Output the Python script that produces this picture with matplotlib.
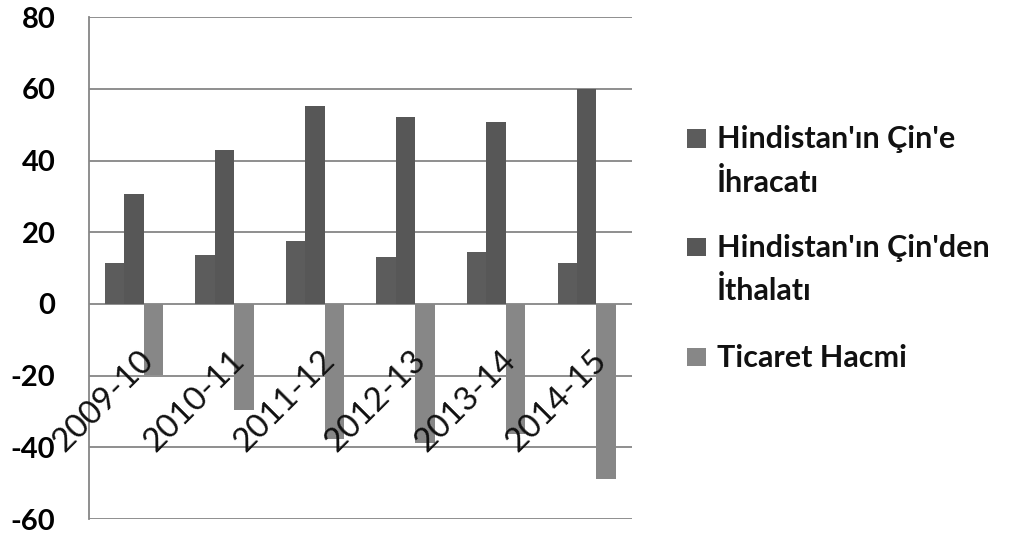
import numpy as np
import matplotlib
matplotlib.use("Agg")
import matplotlib.pyplot as plt
from matplotlib.patches import Rectangle

categories = ["2009-10", "2010-11", "2011-12", "2012-13", "2013-14", "2014-15"]
exports = [11.4, 13.8, 17.5, 13.2, 14.4, 11.4]
imports = [30.7, 43.1, 55.3, 52.2, 50.9, 60.0]
trade = [-19.8, -29.5, -37.6, -38.9, -36.4, -48.7]
series_names = ["Hindistan'ın Çin'e\nİhracatı", "Hindistan'ın Çin'den\nİthalatı", "Ticaret Hacmi"]
series_colors = ["#5c5c5c", "#575757", "#878787"]
yticks = [-60, -40, -20, 0, 20, 40, 60, 80]

W, H = 1016, 538
fig = plt.figure(figsize=(W / 100, H / 100), dpi=100)
ax = fig.add_axes([88.7 / W, 1 - 519 / H, (632 - 88.7) / W, (519 - 17.3) / H])

x = np.arange(len(categories))
bw = 0.215
for k, (vals, col) in enumerate(zip([exports, imports, trade], series_colors)):
    ax.bar(x + (k - 1) * bw, vals, width=bw, color=col, edgecolor="none", zorder=2)

ax.set_xlim(-0.5, len(categories) - 0.5)
ax.set_ylim(-60, 80)
ax.set_yticks(yticks)
ax.set_yticklabels([str(v) for v in yticks], fontfamily="Lato", fontweight="bold", fontsize=21)
ax.tick_params(axis="y", length=0, pad=24)
ax.set_xticks([])
ax.yaxis.grid(True, color="#868686", linewidth=1.3, zorder=1)
ax.set_axisbelow(True)
for s in ["top", "right", "bottom"]:
    ax.spines[s].set_visible(False)
ax.spines["left"].set_color("#868686")
ax.spines["left"].set_linewidth(1.3)

for i, lab in enumerate(categories):
    ax.text(i + 0.05, -11.5, lab, rotation=45, rotation_mode="anchor", ha="right", va="top",
            fontfamily="Lato", fontsize=24, color="#111111", zorder=5)

# legend
first_baselines = [148.3, 256.7, 366.7]
line_gap = 43.4
for name, col, yb in zip(series_names, series_colors, first_baselines):
    fig.patches.append(Rectangle((687.3 / W, 1 - (yb - 0.5) / H), 18.5 / W, 18.5 / H,
                                 transform=fig.transFigure, facecolor=col, edgecolor="none"))
    for j, line in enumerate(name.split("\n")):
        fig.text(716.7 / W, 1 - (yb + j * line_gap) / H, line, ha="left", va="baseline",
                 fontfamily="Lato", fontweight="bold", fontsize=22, color="#111111")

fig.savefig("out.png", dpi=100, facecolor="white")
